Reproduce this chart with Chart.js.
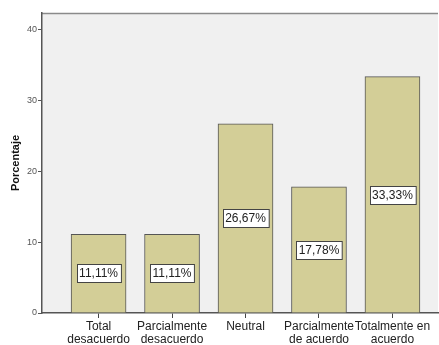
<!DOCTYPE html>
<html>
<head>
<meta charset="utf-8">
<script src="https://cdn.jsdelivr.net/npm/chart.js@4/dist/chart.umd.min.js"></script>
<style>
  html, body { margin: 0; padding: 0; background: #fff; }
  #wrap { width: 439px; height: 345px; }
</style>
</head>
<body>
<div id="wrap"><canvas id="grafico"></canvas></div>
<script>
var categorias = [
  ["Total", "desacuerdo"],
  ["Parcialmente", "desacuerdo"],
  ["Neutral"],
  ["Parcialmente", "de acuerdo"],
  ["Totalmente en", "acuerdo"]
];
var porcentajes = [11.11, 11.11, 26.67, 17.78, 33.33];
var ticksY = [0, 10, 20, 30, 40];

var fuente = "'Liberation Sans', Arial, sans-serif";

// fondo gris del area de trazado y linea superior
var fondo = {
  id: 'fondo',
  beforeDraw: function (chart) {
    var a = chart.chartArea, ctx = chart.ctx;
    ctx.save();
    ctx.fillStyle = '#f0f0f0';
    ctx.fillRect(a.left, a.top, a.right - a.left, a.bottom - a.top);
    ctx.strokeStyle = '#8a8a8a';
    ctx.lineWidth = 1.5;
    ctx.beginPath();
    ctx.moveTo(a.left, a.top + 0.5);
    ctx.lineTo(a.right, a.top + 0.5);
    ctx.stroke();
    ctx.restore();
  }
};

// etiquetas con el porcentaje en el centro de cada barra
var etiquetas = {
  id: 'etiquetas',
  afterDatasetsDraw: function (chart) {
    var ctx = chart.ctx;
    var meta = chart.getDatasetMeta(0);
    ctx.save();
    ctx.font = '12px ' + fuente;
    ctx.textAlign = 'center';
    ctx.textBaseline = 'middle';
    meta.data.forEach(function (bar, i) {
      var txt = porcentajes[i].toFixed(2).replace('.', ',') + '%';
      var cy = Math.round((bar.y + bar.base) / 2);
      var w = ctx.measureText(txt).width + 5;
      var h = 18;
      var x0 = Math.round(bar.x - w / 2) + 0.5;
      ctx.fillStyle = '#ffffff';
      ctx.fillRect(x0, cy - h / 2 + 0.5, w, h);
      ctx.strokeStyle = '#444';
      ctx.lineWidth = 1;
      ctx.strokeRect(x0, cy - h / 2 + 0.5, w, h);
      ctx.fillStyle = '#222';
      ctx.fillText(txt, bar.x, cy + 1);
    });
    ctx.restore();
  }
};

new Chart(document.getElementById('grafico'), {
  type: 'bar',
  data: {
    datasets: [{
      data: porcentajes.map(function (v, i) { return { x: i + 1, y: v }; }),
      backgroundColor: '#d3ce97',
      borderColor: '#555',
      borderWidth: 1,
      barThickness: 55
    }]
  },
  options: {
    responsive: true,
    maintainAspectRatio: false,
    animation: false,
    layout: { padding: { top: 13, right: 1, left: 0, bottom: 0 } },
    plugins: { legend: { display: false }, tooltip: { enabled: false } },
    scales: {
      x: {
        type: 'linear',
        offset: false,
        min: 0.23,
        max: 5.62,
        afterBuildTicks: function (scale) {
          scale.ticks = categorias.map(function (c, i) { return { value: i + 1 }; });
        },
        afterFit: function (scale) { scale.height = 32; },
        ticks: {
          autoSkip: false,
          maxRotation: 0,
          padding: 2,
          color: '#222',
          font: { family: fuente, size: 12, lineHeight: 1.12 },
          callback: function (v) { return categorias[v - 1]; }
        },
        grid: { drawOnChartArea: false, drawTicks: true, tickLength: 5, color: '#444', offset: false },
        border: { color: '#555', width: 1.5 }
      },
      y: {
        min: 0,
        max: 42.3,
        afterBuildTicks: function (scale) {
          scale.ticks = ticksY.map(function (v) { return { value: v }; });
        },
        afterFit: function (scale) { scale.width = 42; },
        ticks: {
          padding: 1,
          color: '#555',
          font: { family: fuente, size: 9 }
        },
        grid: { drawOnChartArea: false, drawTicks: true, tickLength: 4, color: '#555' },
        border: { color: '#555', width: 1.5 },
        title: {
          display: true,
          text: 'Porcentaje',
          color: '#111',
          font: { family: fuente, size: 11, weight: 'bold' },
          padding: { top: 9, bottom: 0 }
        }
      }
    }
  },
  plugins: [fondo, etiquetas]
});
</script>
</body>
</html>
